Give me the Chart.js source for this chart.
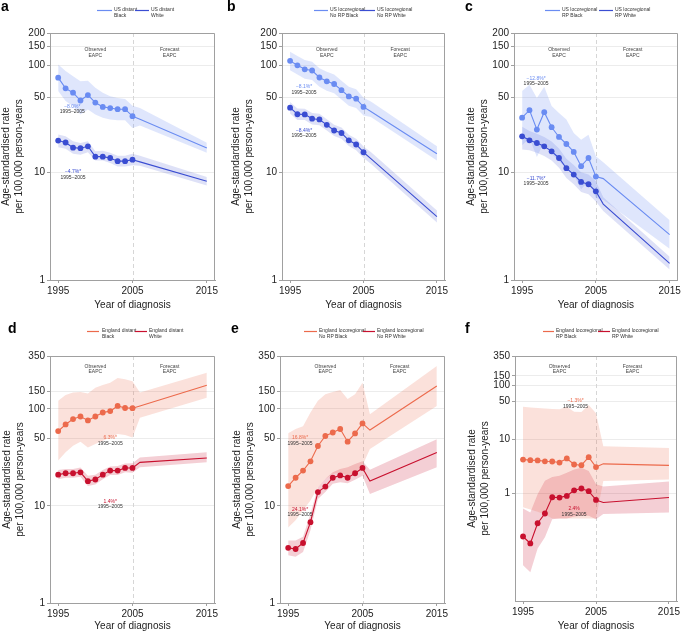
<!DOCTYPE html>
<html>
<head>
<meta charset="utf-8">
<script src="https://cdn.jsdelivr.net/npm/chart.js@4.4.1/dist/chart.umd.min.js"></script>
<style>
  html, body { margin: 0; padding: 0; background: #fff; }
  body { width: 683px; height: 633px; position: relative; overflow: hidden; }
  canvas { position: absolute; }
</style>
</head>
<body>
<canvas id="pa" width="226" height="316" style="left:0;top:0"></canvas>
<canvas id="pb" width="229" height="316" style="left:226px;top:0"></canvas>
<canvas id="pc" width="228" height="316" style="left:455px;top:0"></canvas>
<canvas id="pd" width="226" height="317" style="left:0;top:316px"></canvas>
<canvas id="pe" width="229" height="317" style="left:226px;top:316px"></canvas>
<canvas id="pf" width="228" height="317" style="left:455px;top:316px"></canvas>
<script>
// years
const obsYears = [1995, 1996, 1997, 1998, 1999, 2000, 2001, 2002, 2003, 2004, 2005];
const bandYears = [1995, 1996, 1997, 1998, 1999, 2000, 2001, 2002, 2003, 2004, 2005, 2006, 2015];
const forecastYears = [2005, 2006, 2015];
const xTickYears = [1995, 2005, 2015];
const topTicks = [1, 10, 50, 100, 150, 200];
const bottomTicks = [1, 10, 50, 100, 150, 350];

// a - US distant
const aBlackObs = [76.7, 61, 55.6, 47, 52.8, 45, 41, 40, 39, 39, 33.6];
const aBlackFc = [33.6, 31.5, 17];
const aBlackHi = [102, 88.5, 79, 71, 72, 61.8, 55.6, 51.5, 49.6, 48.6, 42, 40, 19];
const aBlackLo = [57.5, 46.4, 41.6, 34.8, 38.7, 34.8, 32.5, 31.3, 30.8, 30.8, 26.1, 27.5, 15.3];
const aWhiteObs = [19.9, 19.1, 17.1, 16.9, 17.6, 14.1, 14.1, 13.7, 12.8, 12.8, 13.2];
const aWhiteFc = [13.2, 12.6, 8.3];
const aWhiteHi = [22.7, 21.8, 19.6, 18.9, 19.6, 15.8, 16, 15.3, 14.4, 14.4, 15, 14.4, 9.1];
const aWhiteLo = [17.2, 16.7, 15, 14.7, 15.5, 13, 13, 12.3, 11.4, 11.4, 11.7, 11.6, 7.6];

// b - US locoregional no RP
const bBlackObs = [110, 100, 91.8, 89.5, 77, 71, 67, 58.7, 51.3, 48.9, 41];
const bBlackFc = [41, 37.1, 15];
const bBlackHi = [134, 122, 112, 108, 94, 87, 82, 72, 63, 60, 50, 46, 17.6];
const bBlackLo = [90, 82, 75, 73, 63, 58, 55, 48, 42, 40, 34, 33, 13];
const bWhiteObs = [40.3, 35, 34.9, 31.8, 31.3, 27.9, 24.7, 23.4, 20, 18.3, 15.5];
const bWhiteFc = [15.5, 13.5, 3.9];
const bWhiteHi = [45.5, 39.5, 39.4, 36, 35.4, 31.5, 27.9, 26.4, 22.6, 20.7, 17.5, 15.6, 4.45];
const bWhiteLo = [35.6, 31, 30.9, 28.1, 27.7, 24.7, 21.9, 20.7, 17.7, 16.2, 13.7, 12.1, 3.43];

// c - US locoregional RP
const cBlackObs = [32.5, 38.2, 25.2, 36.6, 26.5, 21.5, 18.5, 15.6, 11.5, 13.7, 9.2];
const cBlackFc = [9.2, 8.8, 2.65];
const cBlackHi = [57.5, 66, 49.6, 63, 41.7, 36, 31.3, 23.4, 20.3, 22.6, 14.2, 12.5, 3.6];
const cBlackLo = [18, 21, 14, 19.5, 15, 12.8, 11, 9.5, 7, 8.3, 5.8, 5.6, 1.95];
const cWhiteObs = [21.8, 20, 18.9, 17.6, 15.8, 13.7, 11, 9.6, 8.2, 7.8, 6.7];
const cWhiteFc = [6.7, 5.1, 1.43];
const cWhiteHi = [26.7, 24.5, 23, 21.5, 19.5, 16.8, 13.5, 11.8, 10.1, 9.6, 8.3, 5.9, 1.65];
const cWhiteLo = [16.4, 16.2, 15.3, 14.3, 13, 11.1, 8.9, 7.8, 6.6, 6.3, 5.4, 4.4, 1.25];

// d - England distant
const dBlackObs = [59, 69, 78.4, 83.4, 75.9, 83.4, 91.6, 94.7, 107, 102, 101.6];
const dBlackFc = [101.6, 107, 175];
const dBlackHi = [121, 139, 147, 149, 144, 165, 176, 186, 208, 202, 192, 147, 235];
const dBlackLo = [29.3, 35.6, 41.6, 45.7, 40, 43.4, 47, 50.8, 55, 53.6, 50.8, 81, 130];
const dWhiteObs = [21, 21.7, 21.7, 22.2, 18, 18.7, 21, 23.1, 23.1, 24.6, 24.6];
const dWhiteFc = [24.6, 28.1, 31.2];
const dWhiteHi = [23.5, 24, 24, 24.8, 20.5, 21, 23.5, 25.5, 25.8, 27.3, 27.5, 31.5, 35.7];
const dWhiteLo = [18.8, 19.5, 19.5, 20, 16, 16.6, 18.8, 20.8, 20.8, 22.2, 22, 25, 28.1];

// e - England locoregional no RP
const eBlackObs = [16, 19.5, 23.1, 28.8, 41.4, 52.5, 57, 62, 45.9, 55.8, 70.7];
const eBlackFc = [70.7, 60.4, 172];
const eBlackHi = [56, 62, 66, 91.6, 121, 141, 149, 156, 126, 141, 186, 88, 276];
const eBlackLo = [6, 7.1, 9, 11.4, 15.6, 19, 21.3, 22.2, 20.5, 22, 26, 38.5, 107];
const eWhiteObs = [3.7, 3.6, 4.15, 6.8, 13.9, 15.8, 19.5, 20.6, 19.5, 21.7, 24.6];
const eWhiteFc = [24.6, 18, 35.4];
const eWhiteHi = [4.4, 4.4, 4.8, 8.3, 15.6, 19, 22.2, 24, 25, 27, 28.8, 23.6, 48.7];
const eWhiteLo = [3.1, 3.0, 3.36, 5.6, 11.8, 13.9, 16.9, 17.5, 17.1, 18.6, 20.5, 13.3, 25];

// f - England locoregional RP
const fBlackObs = [4.2, 4.1, 4.05, 3.9, 3.87, 3.7, 4.4, 3.4, 3.3, 4.65, 3.05];
const fBlackFc = [3.05, 3.5, 3.27];
const fBlackHi = [40, 39, 38, 37, 36.5, 36, 40, 32.5, 32, 43, 30.5, 7.4, 6.9];
const fBlackLo = [0.55, 0.5, 0.45, 0.4, 0.34, 0.34, 0.34, 0.34, 0.34, 0.34, 0.34, 1.68, 1.8];
const fWhiteObs = [0.157, 0.117, 0.277, 0.42, 0.84, 0.83, 0.89, 1.13, 1.22, 1.09, 0.75];
const fWhiteFc = [0.75, 0.67, 0.83];
const fWhiteHi = [0.52, 0.44, 0.95, 1.7, 2.0, 2.1, 2.4, 2.76, 2.96, 2.57, 1.46, 1.33, 1.64];
const fWhiteLo = [0.046, 0.034, 0.094, 0.153, 0.33, 0.34, 0.34, 0.37, 0.38, 0.38, 0.33, 0.41, 0.44];

const FONT = '"Liberation Sans", Arial, Helvetica, sans-serif';
const frameColor = '#a0a0a0';
const US = { black: '#6a8cf2', white: '#3a4dd2', blackBand: 'rgba(111,143,242,0.22)', whiteBand: 'rgba(58,77,210,0.17)' };
const EN = { black: '#ec6a4c', white: '#c8102e', blackBand: 'rgba(236,106,76,0.2)', whiteBand: 'rgba(200,16,46,0.2)' };

Chart.defaults.font.family = FONT;

const pts = (xs, ys) => xs.map((x, i) => ({ x: x, y: ys[i] }));

// extra drawing: frame, 2005 split, EAPC notes, legend, panel letter
const decor = {
  id: 'decor',
  beforeDatasetsDraw(chart, args, o) {
    const { ctx, chartArea: a, scales: { x } } = chart;
    const px = Math.round(x.getPixelForValue(2005)) + 0.5;
    ctx.save();
    ctx.strokeStyle = '#d6d6d6';
    ctx.lineWidth = 1;
    ctx.setLineDash([4, 3]);
    ctx.beginPath();
    ctx.moveTo(px, a.top);
    ctx.lineTo(px, a.bottom);
    ctx.stroke();
    ctx.restore();
  },
  afterDraw(chart, args, o) {
    const { ctx, chartArea: a, scales: { x, y } } = chart;
    ctx.save();
    ctx.strokeStyle = frameColor;
    ctx.lineWidth = 1;
    const t = Math.round(a.top) + 0.5, r = Math.round(a.right) - 0.5;
    ctx.beginPath();
    ctx.moveTo(a.left, t);
    ctx.lineTo(r, t);
    ctx.lineTo(r, a.bottom);
    ctx.stroke();

    ctx.font = '5px ' + FONT;
    ctx.textAlign = 'center';
    ctx.textBaseline = 'middle';
    ctx.fillStyle = '#444';
    [['Observed', 2000], ['Forecast', 2010]].forEach(([label, yr]) => {
      const px = x.getPixelForValue(yr);
      ctx.fillText(label, px, a.top + o.eapcOffset[0]);
      ctx.fillText('EAPC', px, a.top + o.eapcOffset[1]);
    });

    o.notes.forEach(n => {
      const px = x.getPixelForValue(n.x), py = y.getPixelForValue(n.y);
      ctx.fillStyle = o.colors[n.s];
      ctx.fillText(n.text, px, py);
      ctx.fillStyle = '#333';
      ctx.fillText('1995\u20132005', px, py + 5.5);
    });

    // legend
    ctx.textAlign = 'left';
    o.legend.items.forEach((it, i) => {
      ctx.strokeStyle = o.colors[i === 0 ? 'black' : 'white'];
      ctx.lineWidth = 1.2;
      ctx.beginPath();
      ctx.moveTo(it[0], o.legend.lineY);
      ctx.lineTo(it[1], o.legend.lineY);
      ctx.stroke();
      ctx.fillStyle = '#333';
      ctx.fillText(o.names[i][0], it[2], o.legend.textY);
      ctx.fillText(o.names[i][1], it[2], o.legend.textY + 5.5);
    });

    ctx.font = 'bold 14px ' + FONT;
    ctx.fillStyle = '#000';
    ctx.textBaseline = 'alphabetic';
    ctx.fillText(o.letter, o.letterPos[0], o.letterPos[1]);
    ctx.restore();
  }
};

const topLegendY = { lineY: 10.5, textY: 10 };
const botLegendY = { lineY: 15.5, textY: 14.7 };

const panels = [
  { id: 'pa', letter: 'a', letterPos: [1, 11], frame: { left: 50, right: 215, top: 33, bottom: 280 }, padLeft: 0, xTitlePad: 5,
    yMin: 1, yMax: 200, yTicks: topTicks, colors: US, eapcOffset: [17, 22.7],
    legend: Object.assign({ items: [[97, 112, 114], [135, 149, 151]] }, topLegendY),
    names: [['US distant', 'Black'], ['US distant', 'White']],
    black: [aBlackObs, aBlackFc, aBlackHi, aBlackLo], white: [aWhiteObs, aWhiteFc, aWhiteHi, aWhiteLo],
    notes: [{ x: 1996.9, y: 41.4, s: 'black', text: '\u22128.0%*' }, { x: 1997, y: 10.2, s: 'white', text: '\u22124.7%*' }] },
  { id: 'pb', letter: 'b', letterPos: [1, 11], frame: { left: 56, right: 219, top: 33, bottom: 280 }, padLeft: 4, xTitlePad: 5,
    yMin: 1, yMax: 200, yTicks: topTicks, colors: US, eapcOffset: [17, 22.7],
    legend: Object.assign({ items: [[88, 102, 104], [134, 149, 151]] }, topLegendY),
    names: [['US locoregional', 'No RP Black'], ['US locoregional', 'No RP White']],
    black: [bBlackObs, bBlackFc, bBlackHi, bBlackLo], white: [bWhiteObs, bWhiteFc, bWhiteHi, bWhiteLo],
    notes: [{ x: 1996.9, y: 63, s: 'black', text: '\u22128.1%*' }, { x: 1996.9, y: 24.9, s: 'white', text: '\u22128.4%*' }] },
  { id: 'pc', letter: 'c', letterPos: [10, 11], frame: { left: 59, right: 223, top: 33, bottom: 280 }, padLeft: 10, xTitlePad: 5,
    yMin: 1, yMax: 200, yTicks: topTicks, colors: US, eapcOffset: [17, 22.7],
    legend: Object.assign({ items: [[90, 105, 107], [144, 158, 160]] }, topLegendY),
    names: [['US locoregional', 'RP Black'], ['US locoregional', 'RP White']],
    black: [cBlackObs, cBlackFc, cBlackHi, cBlackLo], white: [cWhiteObs, cWhiteFc, cWhiteHi, cWhiteLo],
    notes: [{ x: 1996.9, y: 75.6, s: 'black', text: '\u221212.8%*' }, { x: 1996.9, y: 8.8, s: 'white', text: '\u221211.7%*' }] },
  { id: 'pd', letter: 'd', letterPos: [8, 17], frame: { left: 50, right: 215, top: 40, bottom: 287 }, padLeft: 1, xTitlePad: 1,
    yMin: 1, yMax: 350, yTicks: bottomTicks, colors: EN, eapcOffset: [10.7, 15.7],
    legend: Object.assign({ items: [[87, 99, 102], [135, 147, 149]] }, botLegendY),
    names: [['England distant', 'Black'], ['England distant', 'White']],
    black: [dBlackObs, dBlackFc, dBlackHi, dBlackLo], white: [dWhiteObs, dWhiteFc, dWhiteHi, dWhiteLo],
    notes: [{ x: 2002, y: 50.4, s: 'black', text: '6.3%*' }, { x: 2002, y: 11.1, s: 'white', text: '1.4%*' }] },
  { id: 'pe', letter: 'e', letterPos: [5, 17], frame: { left: 54, right: 219, top: 40, bottom: 287 }, padLeft: 5, xTitlePad: 1,
    yMin: 1, yMax: 350, yTicks: bottomTicks, colors: EN, eapcOffset: [10.7, 15.7],
    legend: Object.assign({ items: [[78, 91, 93], [137, 149, 151]] }, botLegendY),
    names: [['England locoregional', 'No RP Black'], ['England locoregional', 'No RP White']],
    black: [eBlackObs, eBlackFc, eBlackHi, eBlackLo], white: [eWhiteObs, eWhiteFc, eWhiteHi, eWhiteLo],
    notes: [{ x: 1996.6, y: 50.4, s: 'black', text: '16.8%*' }, { x: 1996.6, y: 9.2, s: 'white', text: '24.1%*' }] },
  { id: 'pf', letter: 'f', letterPos: [10, 17], frame: { left: 60, right: 222, top: 40, bottom: 285 }, padLeft: 11, xTitlePad: 1,
    yMin: 0.01, yMax: 350, yTicks: bottomTicks, colors: EN, eapcOffset: [10.7, 15.7],
    legend: Object.assign({ items: [[88, 99, 101], [143, 155, 157]] }, botLegendY),
    names: [['England locoregional', 'RP Black'], ['England locoregional', 'RP White']],
    black: [fBlackObs, fBlackFc, fBlackHi, fBlackLo], white: [fWhiteObs, fWhiteFc, fWhiteHi, fWhiteLo],
    notes: [{ x: 2002.2, y: 51, s: 'black', text: '\u22121.3%*' }, { x: 2002, y: 0.51, s: 'white', text: '2.4%' }] }
];

function seriesSets(s, color, band) {
  return {
    bands: [
      { data: pts(bandYears, s[2]), borderWidth: 0, pointRadius: 0, fill: '+1', backgroundColor: band, order: 10 },
      { data: pts(bandYears, s[3]), borderWidth: 0, pointRadius: 0, fill: false, order: 10 }
    ],
    lines: [
      { data: pts(obsYears, s[0]), borderColor: color, backgroundColor: color, borderWidth: 1.1, pointRadius: 2.9, pointBorderWidth: 0, fill: false, order: 0 },
      { data: pts(forecastYears, s[1]), borderColor: color, borderWidth: 1.1, pointRadius: 0, fill: false, order: 0 }
    ]
  };
}

panels.forEach(p => {
  const canvas = document.getElementById(p.id);
  const W = canvas.width, H = canvas.height;
  const b = seriesSets(p.black, p.colors.black, p.colors.blackBand);
  const w = seriesSets(p.white, p.colors.white, p.colors.whiteBand);
  new Chart(canvas, {
    type: 'line',
    data: { datasets: [...b.bands, ...w.bands, ...b.lines, ...w.lines] },
    options: {
      responsive: false,
      animation: false,
      devicePixelRatio: 1,
      layout: { padding: { left: p.padLeft, top: p.frame.top, right: W - p.frame.right, bottom: 0 } },
      elements: { line: { tension: 0 } },
      plugins: { legend: { display: false }, tooltip: { enabled: false }, decor: p },
      scales: {
        x: {
          type: 'linear', min: 1993.9, max: 2016.1, bounds: 'data',
          afterBuildTicks: s => { s.ticks = xTickYears.map(v => ({ value: v })); },
          afterFit: s => { s.height = H - p.frame.bottom; },
          ticks: { callback: v => String(v), font: { size: 10 }, color: '#222', padding: 2, maxRotation: 0, autoSkip: false },
          grid: { drawOnChartArea: false, tickLength: 3, tickColor: frameColor },
          border: { color: frameColor },
          title: { display: true, text: 'Year of diagnosis', font: { size: 10 }, color: '#222', padding: { top: 0, bottom: p.xTitlePad } }
        },
        y: {
          type: 'logarithmic', min: p.yMin, max: p.yMax, bounds: 'data',
          afterBuildTicks: s => { s.ticks = p.yTicks.map(v => ({ value: v })); },
          afterFit: s => { s.width = p.frame.left - p.padLeft; },
          ticks: { callback: v => String(v), font: { size: 10 }, color: '#222', padding: 2, autoSkip: false },
          grid: { color: '#ececec', tickLength: 3, tickColor: frameColor },
          border: { color: frameColor },
          title: { display: true, text: ['Age-standardised rate', 'per 100,000 person-years'], font: { size: 10, lineHeight: 1.25 }, color: '#222', padding: 0 }
        }
      }
    },
    plugins: [decor]
  });
});
</script>
</body>
</html>
